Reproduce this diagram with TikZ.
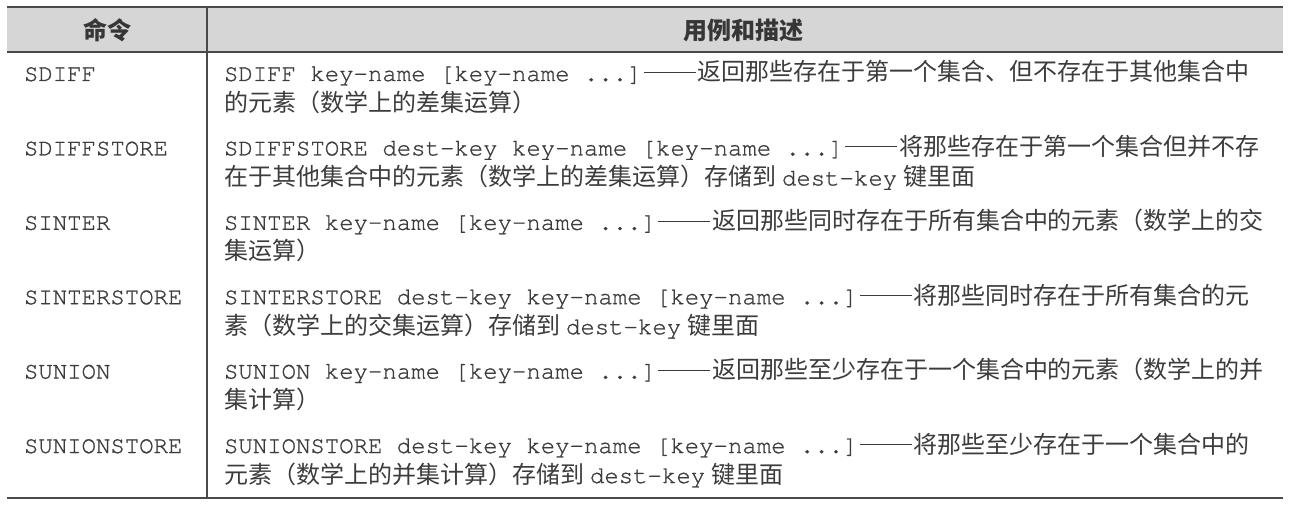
\documentclass[tikz,border=0pt]{standalone}
\usepackage{fontspec}
\setmonofont[BoldFont={TeX Gyre Cursor}, BoldFeatures={FakeBold=1.0}]{TeX Gyre Cursor}
\newfontfamily\cjk{Noto Sans CJK SC}
\definecolor{txt}{HTML}{3C3C3C}
\definecolor{rule}{HTML}{4A4A4A}
\definecolor{head}{HTML}{D6D6D6}
\tikzset{
  cell/.style={anchor=base west, inner sep=0pt, outer sep=0pt, text=txt, font=\fontsize{24}{30}\selectfont},
  headtxt/.style={anchor=center, inner sep=0pt, text=txt!90!black, font=\fontsize{24}{30}\selectfont\cjk\bfseries},
  thickrule/.style={draw=rule, line width=2.6pt},
  midrule/.style={draw=rule, line width=2pt},
  vrule/.style={draw=rule, line width=1.4pt}
}
\newcommand{\mt}[1]{{\ttfamily\bfseries #1}}
\newcommand{\zh}[1]{{\cjk #1}}
\newcommand{\dsh}{\hspace{2pt}\rule[8pt]{52pt}{1.1pt}\hspace{2pt}}
\begin{document}
\begin{tikzpicture}[x=1pt,y=-1pt]
\useasboundingbox (0,0) rectangle (1291,511);
% header
\fill[head] (7,7) rectangle (1283,52);
\coordinate (tl) at (7,7);
\coordinate (tr) at (1283,7);
\coordinate (hl) at (7,52);
\coordinate (hr) at (1283,52);
\coordinate (bl) at (7,498);
\coordinate (br) at (1283,498);
\coordinate (vt) at (207,7);
\coordinate (vb) at (207,498);
\draw[thickrule] (tl) -- (tr);
\draw[midrule] (hl) -- (hr);
\draw[thickrule] (bl) -- (br);
\draw[vrule] (vt) -- (vb);
\node[headtxt] (h1) at (107,30) {命令};
\node[headtxt] (h2) at (743,30) {用例和描述};
% rows
\node[cell] (c1) at (24,81) {\mt{SDIFF}};
\node[cell] (d1a) at (224,81) {\mt{SDIFF key-name [key-name ...]}\dsh\zh{返回那些存在于第一个集合、但不存在于其他集合中}};
\node[cell] (d1b) at (224,111) {\zh{的元素（数学上的差集运算）}};
\node[cell] (c2) at (24,155.4) {\mt{SDIFFSTORE}};
\node[cell] (d2a) at (224,155.4) {\mt{SDIFFSTORE dest-key key-name [key-name ...]}\dsh\zh{将那些存在于第一个集合但并不存}};
\node[cell] (d2b) at (224,185.4) {\zh{在于其他集合中的元素（数学上的差集运算）存储到}\hspace{6pt}\mt{dest-key}\hspace{6pt}\zh{键里面}};
\node[cell] (c3) at (24,229.8) {\mt{SINTER}};
\node[cell] (d3a) at (224,229.8) {\mt{SINTER key-name [key-name ...]}\dsh\zh{返回那些同时存在于所有集合中的元素（数学上的交}};
\node[cell] (d3b) at (224,259.8) {\zh{集运算）}};
\node[cell] (c4) at (24,304.2) {\mt{SINTERSTORE}};
\node[cell] (d4a) at (224,304.2) {\mt{SINTERSTORE dest-key key-name [key-name ...]}\dsh\zh{将那些同时存在于所有集合的元}};
\node[cell] (d4b) at (224,334.2) {\zh{素（数学上的交集运算）存储到}\hspace{6pt}\mt{dest-key}\hspace{6pt}\zh{键里面}};
\node[cell] (c5) at (24,378.6) {\mt{SUNION}};
\node[cell] (d5a) at (224,378.6) {\mt{SUNION key-name [key-name ...]}\dsh\zh{返回那些至少存在于一个集合中的元素（数学上的并}};
\node[cell] (d5b) at (224,408.6) {\zh{集计算）}};
\node[cell] (c6) at (24,453) {\mt{SUNIONSTORE}};
\node[cell] (d6a) at (224,453) {\mt{SUNIONSTORE dest-key key-name [key-name ...]}\dsh\zh{将那些至少存在于一个集合中的}};
\node[cell] (d6b) at (224,483) {\zh{元素（数学上的并集计算）存储到}\hspace{6pt}\mt{dest-key}\hspace{6pt}\zh{键里面}};
\end{tikzpicture}
\end{document}
